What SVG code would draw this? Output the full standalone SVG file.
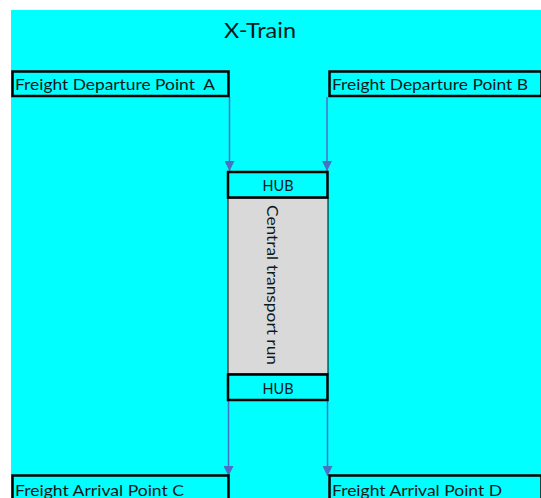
<svg xmlns="http://www.w3.org/2000/svg" width="541" height="498" viewBox="0 0 541 498">
<style>
.box{fill:#00FFFF;stroke:#000;stroke-width:2.5}
.t{font-family:Lato,"Open Sans","Liberation Sans",Arial,sans-serif;font-size:16px;fill:#0d1a1a;white-space:pre}
.c{stroke:#4a6fc4;stroke-width:1.5;fill:none}
</style>
<defs>
<marker id="ah" viewBox="0 0 10 10" refX="10" refY="5" markerWidth="10" markerHeight="10" orient="auto" markerUnits="userSpaceOnUse">
<path d="M0,0 L10,5 L0,10 z" fill="#4a6fc4"/>
</marker>
</defs>
<rect width="541" height="498" fill="#fff"/>
<rect x="11" y="10" width="530" height="488" fill="#00FFFF"/>
<text x="260" y="38" text-anchor="middle" textLength="72" lengthAdjust="spacingAndGlyphs" style="font-family:Lato,'Open Sans','Liberation Sans',Arial,sans-serif;font-size:22px;fill:#0d1a1a">X-Train</text>
<g id="connectors">
<path class="c" d="M229.5,97 V171" marker-end="url(#ah)"/>
<path class="c" d="M327,97 V171" marker-end="url(#ah)"/>
<path class="c" d="M228.5,400 V476" marker-end="url(#ah)"/>
<path class="c" d="M327.5,400 V476" marker-end="url(#ah)"/>
</g>
<g id="depA"><rect class="box" x="12.5" y="71.5" width="216" height="24.5"/><text class="t" x="15" y="89.5" xml:space="preserve" textLength="200" lengthAdjust="spacingAndGlyphs">Freight Departure Point  A</text></g>
<g id="depB"><rect class="box" x="329.5" y="71.5" width="212" height="24.5"/><text class="t" x="332" y="89.5" textLength="196" lengthAdjust="spacingAndGlyphs">Freight Departure Point B</text></g>
<g id="central"><rect x="228" y="198" width="100" height="176" fill="#D9D9D9" stroke="#000" stroke-width="1"/><text class="t" transform="translate(267,285) rotate(90)" text-anchor="middle" textLength="160" lengthAdjust="spacingAndGlyphs">Central transport run</text></g>
<g id="hubTop"><rect class="box" x="228" y="172" width="99.5" height="25.5"/><text class="t" x="278" y="191" text-anchor="middle" textLength="31" lengthAdjust="spacingAndGlyphs">HUB</text></g>
<g id="hubBottom"><rect class="box" x="228" y="374.5" width="99.5" height="25.5"/><text class="t" x="278" y="393.5" text-anchor="middle" textLength="31" lengthAdjust="spacingAndGlyphs">HUB</text></g>
<g id="arrC"><rect class="box" x="12.5" y="475.5" width="216" height="30"/><text class="t" x="15" y="495.5" textLength="169" lengthAdjust="spacingAndGlyphs">Freight Arrival Point C</text></g>
<g id="arrD"><rect class="box" x="329.5" y="475.5" width="212" height="30"/><text class="t" x="332" y="495.5" textLength="170" lengthAdjust="spacingAndGlyphs">Freight Arrival Point D</text></g>
</svg>
